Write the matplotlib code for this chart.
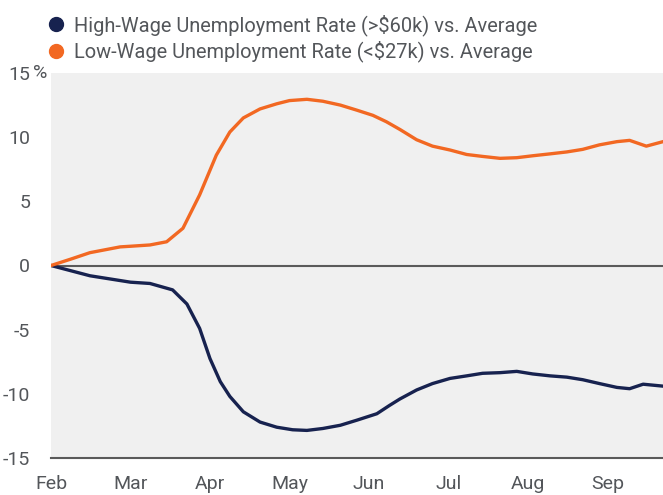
import matplotlib
matplotlib.use("Agg")
import matplotlib.pyplot as plt
from matplotlib.lines import Line2D

# x positions in months after Feb 1 (0 = Feb, 1 = Mar, ...)
low_x = [0, 0.25, 0.49, 0.87, 1.0, 1.245, 1.455, 1.66, 1.87, 2.08, 2.25, 2.42, 2.63,
         2.84, 3.0, 3.22, 3.42, 3.64, 3.85, 4.05, 4.22, 4.39, 4.6, 4.8, 5.02, 5.23,
         5.43, 5.65, 5.86, 6.06, 6.28, 6.49, 6.69, 6.9, 7.12, 7.28, 7.49, 7.7]
low_y = [0, 0.5, 1.0, 1.45, 1.5, 1.6, 1.85, 2.9, 5.5, 8.6, 10.4, 11.5, 12.2,
         12.6, 12.85, 12.95, 12.8, 12.5, 12.1, 11.7, 11.2, 10.6, 9.8, 9.3, 9.0, 8.65,
         8.5, 8.35, 8.4, 8.55, 8.7, 8.85, 9.05, 9.4, 9.65, 9.75, 9.3, 9.65]

high_x = [0, 0.49, 1.0, 1.245, 1.53, 1.71, 1.87, 2.0, 2.13, 2.25, 2.42, 2.63, 2.84,
          3.04, 3.22, 3.42, 3.64, 3.85, 4.1, 4.26, 4.39, 4.6, 4.8, 5.02, 5.23, 5.43,
          5.65, 5.86, 6.06, 6.28, 6.49, 6.69, 6.9, 7.12, 7.28, 7.45, 7.7]
high_y = [0, -0.8, -1.3, -1.4, -1.9, -3.0, -4.9, -7.25, -9.05, -10.2, -11.4, -12.2, -12.6,
          -12.8, -12.85, -12.7, -12.45, -12.05, -11.55, -10.9, -10.4, -9.7, -9.2, -8.8, -8.6, -8.4,
          -8.35, -8.25, -8.45, -8.6, -8.7, -8.9, -9.2, -9.5, -9.6, -9.25, -9.4]

months = ["Feb", "Mar", "Apr", "May", "Jun", "Jul", "Aug", "Sep"]
yticks = [15, 10, 5, 0, -5, -10, -15]
labels = ["High-Wage Unemployment Rate (>$60k) vs. Average",
          "Low-Wage Unemployment Rate (<$27k) vs. Average"]

navy = "#17224f"
orange = "#f26822"
text_col = "#53565a"

plt.rcParams["font.family"] = ["Roboto", "DejaVu Sans"]

fig = plt.figure(figsize=(6.63, 4.95), dpi=100)
ax = fig.add_axes([51 / 663, 37 / 495, 612 / 663, 385 / 495])
ax.set_facecolor("#f0f0f0")

ax.axhline(0, color="#5a5a5a", lw=1.5, zorder=1)
ax.plot(high_x, high_y, color=navy, lw=2.4, zorder=3, solid_joinstyle="round")
ax.plot(low_x, low_y, color=orange, lw=2.4, zorder=3, solid_joinstyle="round")

ax.set_xlim(0, 7.7)
ax.set_ylim(-15, 15)
ax.set_xticks(range(len(months)))
ax.set_xticklabels(months)
ax.set_yticks(yticks)
ax.set_yticklabels([str(v) for v in yticks])
ax.tick_params(axis="both", length=0, labelsize=14, labelcolor=text_col)
ax.tick_params(axis="y", pad=15)
ax.tick_params(axis="x", pad=12)

for s in ["top", "right", "left"]:
    ax.spines[s].set_visible(False)
ax.spines["bottom"].set_color("#5a5a5a")
ax.spines["bottom"].set_linewidth(1.5)

# hanging percent sign on the top tick
ax.annotate("%", xy=(0, 15), xycoords=("axes fraction", "data"),
            xytext=(-18, 0), textcoords="offset pixels", ha="left", va="center",
            fontsize=14, color=text_col, annotation_clip=False)

handles = [Line2D([], [], ls="", marker="o", ms=10, color=navy),
           Line2D([], [], ls="", marker="o", ms=10, color=orange)]
fig.legend(handles, labels, loc="upper left", bbox_to_anchor=(30 / 663, 1.0),
           frameon=False, fontsize=14.4, labelcolor=text_col, handletextpad=0.3,
           labelspacing=0.25, handlelength=1.2, borderaxespad=0.3)

fig.savefig("out.png", dpi=100)
